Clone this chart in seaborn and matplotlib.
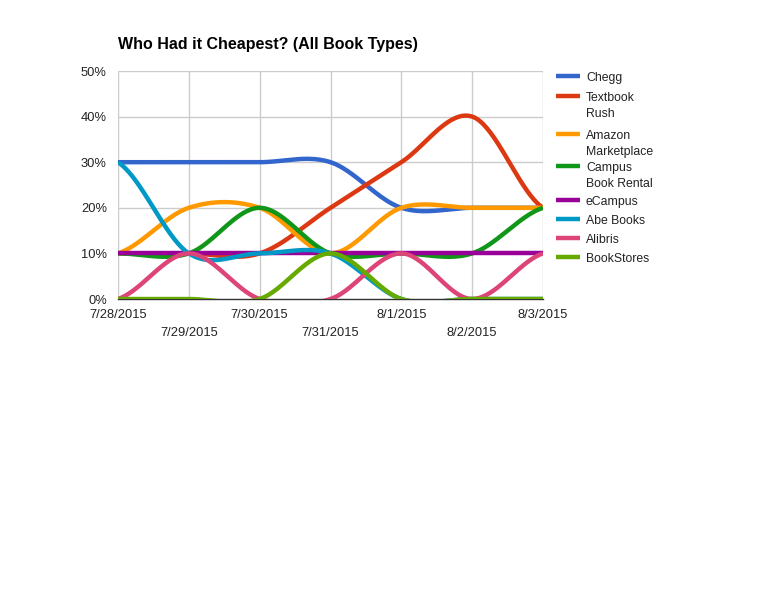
import numpy as np
import pandas as pd
import matplotlib
matplotlib.use("Agg")
import matplotlib.pyplot as plt
import seaborn as sns
from matplotlib.lines import Line2D

# Data (share of times each store was cheapest)
dates = ["7/28/2015", "7/29/2015", "7/30/2015", "7/31/2015", "8/1/2015", "8/2/2015", "8/3/2015"]
chegg = [0.30, 0.30, 0.30, 0.30, 0.20, 0.20, 0.20]
textbook_rush = [0.10, 0.10, 0.10, 0.20, 0.30, 0.40, 0.20]
amazon = [0.10, 0.20, 0.20, 0.10, 0.20, 0.20, 0.20]
campus_book = [0.10, 0.10, 0.20, 0.10, 0.10, 0.10, 0.20]
ecampus = [0.10, 0.10, 0.10, 0.10, 0.10, 0.10, 0.10]
abe_books = [0.30, 0.10, 0.10, 0.10, 0.00, 0.00, 0.00]
alibris = [0.00, 0.10, 0.00, 0.00, 0.10, 0.00, 0.10]
bookstores = [0.00, 0.00, 0.00, 0.10, 0.00, 0.00, 0.00]

series_names = ["Chegg", "Textbook Rush", "Amazon Marketplace", "Campus Book Rental",
                "eCampus", "Abe Books", "Alibris", "BookStores"]
legend_labels = ["Chegg", "Textbook\nRush", "Amazon\nMarketplace", "Campus\nBook Rental",
                 "eCampus", "Abe Books", "Alibris", "BookStores"]
series_values = [chegg, textbook_rush, amazon, campus_book, ecampus, abe_books, alibris, bookstores]
colors = ["#3366cc", "#dc3912", "#ff9900", "#109618", "#990099", "#0099c6", "#dd4477", "#66aa00"]


def smooth(y, steps=40):
    # Catmull-Rom style curve through the points (like the "function" curve type)
    y = np.asarray(y, dtype=float)
    n = len(y)
    xs, ys = [], []
    for i in range(n - 1):
        p0 = y[max(i - 1, 0)]
        p1, p2 = y[i], y[i + 1]
        p3 = y[min(i + 2, n - 1)]
        m1 = (p2 - p0) / 2 if i > 0 else (p2 - p1) / 2
        m2 = (p3 - p1) / 2 if i + 1 < n - 1 else (p2 - p1) / 2
        t = np.linspace(0, 1, steps, endpoint=(i == n - 2))
        h00 = 2 * t**3 - 3 * t**2 + 1
        h10 = t**3 - 2 * t**2 + t
        h01 = -2 * t**3 + 3 * t**2
        h11 = t**3 - t**2
        xs.append(i + t)
        ys.append(h00 * p1 + h10 * m1 + h01 * p2 + h11 * m2)
    return np.concatenate(xs), np.concatenate(ys)


frames = []
for name, vals in zip(series_names, series_values):
    sx, sy = smooth(vals)
    frames.append(pd.DataFrame({"x": sx, "y": sy, "store": name}))
df = pd.concat(frames, ignore_index=True)

sns.set_style("white")
plt.rcParams["font.family"] = ["Liberation Sans", "DejaVu Sans"]

fig = plt.figure(figsize=(7.68, 6.14), dpi=100)
ax = fig.add_axes([118 / 768, 1 - 299 / 614, (543 - 118) / 768, (299 - 71) / 614])

sns.lineplot(data=df, x="x", y="y", hue="store", hue_order=series_names,
             palette=colors, sort=False, estimator=None, linewidth=3.2,
             legend=False, ax=ax, solid_capstyle="butt")

ax.set_xlim(0, len(dates) - 1)
ax.set_ylim(0, 0.5)
ax.set_yticks([0, 0.1, 0.2, 0.3, 0.4, 0.5])
ax.set_yticklabels(["0%", "10%", "20%", "30%", "40%", "50%"], fontsize=9.3, color="#222222")
ax.set_xticks(range(len(dates)))
ax.set_xticklabels([])
for i, d in enumerate(dates):
    ax.annotate(d, xy=(i, 0), xycoords=("data", "axes fraction"),
                xytext=(0, -16 if i % 2 == 0 else -34), textcoords="offset pixels",
                ha="center", va="center", fontsize=9.3, color="#222222")
ax.tick_params(axis="both", length=0, pad=8)
ax.grid(True, color="#cccccc", linewidth=1)
for s in ["top", "right", "left"]:
    ax.spines[s].set_visible(False)
ax.spines["bottom"].set_color("#333333")
ax.spines["bottom"].set_linewidth(1)
ax.spines["bottom"].set_zorder(0.5)
ax.set_xlabel("")
ax.set_ylabel("")

fig.text(118 / 768, 1 - 44 / 614, "Who Had it Cheapest? (All Book Types)",
         fontsize=11.5, fontweight="bold", va="center", ha="left", color="black")

# Legend drawn by hand so the swatch sits beside the first text line
legend_y = [76, 96, 134, 166, 200, 219, 238, 257]
for lab, col, yy in zip(legend_labels, colors, legend_y):
    fy = 1 - yy / 614
    fig.add_artist(Line2D([556 / 768, 580 / 768], [fy, fy], color=col, linewidth=3.2,
                          solid_capstyle="butt"))
    fig.text(586 / 768, fy + 4 / 614, lab, fontsize=8.8, va="top", ha="left",
             color="#222222", linespacing=1.45)

fig.savefig("out.png", dpi=100)
